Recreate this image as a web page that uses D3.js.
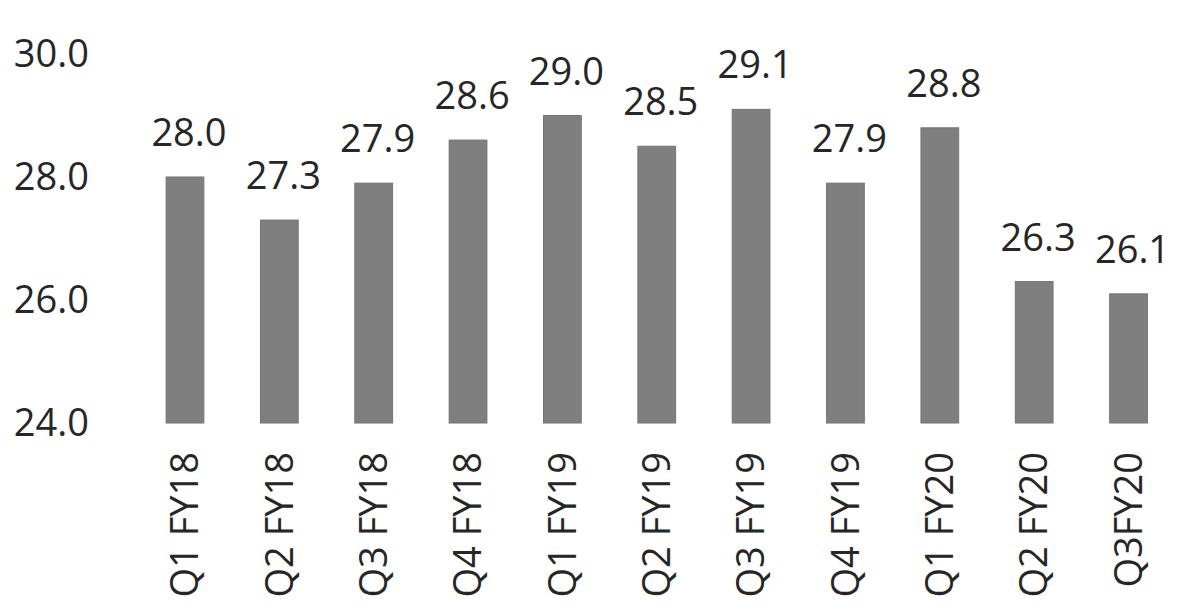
<!DOCTYPE html>
<html>
<head>
<meta charset="utf-8">
<script src="https://cdn.jsdelivr.net/npm/d3@7"></script>
<style>
  html, body { margin: 0; padding: 0; background: #ffffff; }
  svg { display: block; }
  text { font-family: "Open Sans", "DejaVu Sans", sans-serif; fill: #262626; }
</style>
</head>
<body>
<svg id="chart" width="1200" height="616"></svg>
<script>
const categories = ["Q1 FY18", "Q2 FY18", "Q3 FY18", "Q4 FY18", "Q1 FY19", "Q2 FY19",
                    "Q3 FY19", "Q4 FY19", "Q1 FY20", "Q2 FY20", "Q3FY20"];
const values = [28.0, 27.3, 27.9, 28.6, 29.0, 28.5, 29.1, 27.9, 28.8, 26.3, 26.1];
const yTicks = [24, 26, 28, 30];

const svg = d3.select("#chart");
const FS = 38;

const x = d3.scaleBand()
  .domain(categories)
  .range([137.8, 1175.7])
  .paddingInner(0.6)
  .paddingOuter(0.3);

const y = d3.scaleLinear()
  .domain([24, 30])
  .range([423, 54]);

// Y axis tick labels (no line, no ticks)
const yAxis = d3.axisLeft(y)
  .tickValues(yTicks)
  .tickFormat(d3.format(".1f"))
  .tickSize(0)
  .tickPadding(0);
const gy = svg.append("g")
  .attr("transform", "translate(89,0)")
  .call(yAxis);
gy.select(".domain").remove();
gy.selectAll("text")
  .attr("font-size", FS)
  .attr("font-family", "Open Sans, DejaVu Sans, sans-serif")
  .attr("fill", "#262626");

// Bars
svg.append("g").selectAll("rect")
  .data(values)
  .join("rect")
  .attr("x", (d, i) => x(categories[i]))
  .attr("y", d => y(d))
  .attr("width", x.bandwidth())
  .attr("height", d => y(24) - y(d))
  .attr("fill", "#7f7f7f")
  .attr("stroke", "#747474")
  .attr("stroke-width", 1);

// Value labels
svg.append("g").selectAll("text")
  .data(values)
  .join("text")
  .attr("x", (d, i) => x(categories[i]) + x.bandwidth() / 2 + 4)
  .attr("y", d => y(d) - 31)
  .attr("text-anchor", "middle")
  .attr("font-size", FS)
  .text(d => d3.format(".1f")(d));

// X axis labels (rotated)
const xAxis = d3.axisBottom(x).tickSize(0).tickPadding(0);
const gx = svg.append("g")
  .attr("transform", "translate(0,452)")
  .call(xAxis);
gx.select(".domain").remove();
gx.selectAll("text")
  .attr("font-size", FS)
  .attr("font-family", "Open Sans, DejaVu Sans, sans-serif")
  .attr("fill", "#262626")
  .attr("text-anchor", "end")
  .attr("transform", "rotate(-90)")
  .attr("x", 0)
  .attr("y", 0)
  .attr("dy", "0.35em");
</script>
</body>
</html>
